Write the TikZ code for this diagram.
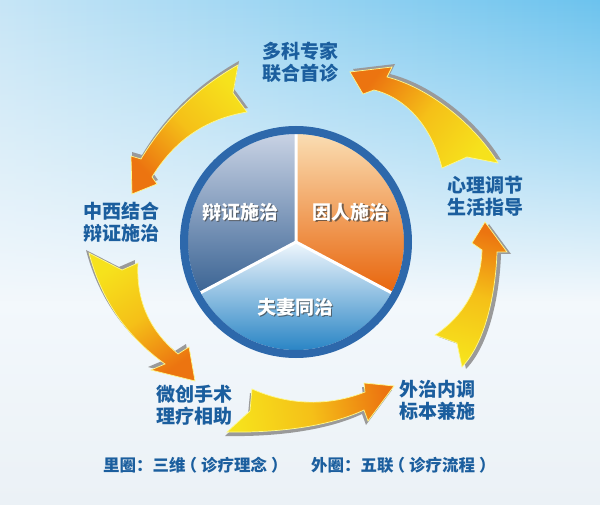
\documentclass[tikz,border=0pt]{standalone}
\usepackage{fontspec}
\setmainfont{Noto Sans CJK SC}
\usetikzlibrary{fadings}
\definecolor{bgtop}{HTML}{A9D9F2}
\definecolor{bgtr}{HTML}{6CC3EE}
\definecolor{bgmid}{HTML}{F3F8FC}
\definecolor{bgbot}{HTML}{EBF1F6}
\definecolor{lbl}{HTML}{1B5E9E}
\definecolor{ringc}{HTML}{2D68AB}
\definecolor{ayel}{HTML}{F6E21C}
\definecolor{amid}{HTML}{F5C018}
\definecolor{aora}{HTML}{EC7410}
\definecolor{ashd}{HTML}{9A9A9A}
\definecolor{ltop}{HTML}{C8D2E4}
\definecolor{lbot}{HTML}{3B6494}
\definecolor{rtop}{HTML}{FADDB2}
\definecolor{rbot}{HTML}{E8650C}
\definecolor{btop}{HTML}{F0F7FD}
\definecolor{bbot}{HTML}{0E75BD}
\tikzset{
  lbltext/.style={text=lbl, font=\fontsize{19}{22}\selectfont\bfseries, align=center, inner sep=0pt},
  pietext/.style={text=white, font=\fontsize{19}{22}\selectfont\bfseries, inner sep=0pt},
  pieshadow/.style={text=black!75, font=\fontsize{19}{22}\selectfont\bfseries, inner sep=0pt, opacity=0.7},
  captext/.style={text=lbl, font=\fontsize{16.5}{18}\selectfont\bfseries, inner sep=0pt},
  arrowshadow/.style={fill=ashd},
  arrowbody/.style={draw=white!55!yellow, line width=0.7pt},
}
\newcommand\pathArrowA{(238,65) .. controls (197,88) and (165,119) .. (141,159) -- (131,156) -- (132,194) -- (157,184) -- (152,177) .. controls (174,141) and (205,119) .. (247,112) -- (233,93) -- cycle}
\newcommand\pathArrowB{(89,253) -- (122,270) -- (138,263) .. controls (136,300) and (149,330) .. (178,354) -- (189,347) -- (195,381) -- (151,370) -- (165,364) .. controls (126,336) and (101,299) .. (89,253) -- cycle}
\newcommand\pathArrowC{(252,389) .. controls (290,406) and (330,406) .. (365,392) -- (364,383) -- (394,386) -- (368,421) -- (364,410) .. controls (330,426) and (280,433) .. (227,432) -- (250,411) -- cycle}
\newcommand\pathArrowD{(435,335) -- (457,343) -- (462,367) .. controls (488,340) and (496,285) .. (497,252) -- (507,252) -- (485,222) -- (472,243) -- (482,250) .. controls (481,285) and (465,315) .. (435,335) -- cycle}
\newcommand\pathArrowE{(498,163) .. controls (475,125) and (430,88) .. (387,77) -- (392,67) -- (350,72) -- (363,94) -- (374,90) .. controls (400,96) and (430,120) .. (442,168) -- (467,157) -- cycle}
\begin{document}
\begin{tikzpicture}[x=1pt,y=-1pt]
\useasboundingbox (0,0) rectangle (600,505);
% background
\fill[bgmid] (0,0) rectangle (600,505);
\shade[top color=bgmid, bottom color=bgbot] (0,300) rectangle (600,505);
\shade[left color=bgtop!60!bgmid, right color=bgtr, path fading=south] (0,0) rectangle (600,300);

% arrows: shadows
\fill[arrowshadow, shift={(1,-4)}] \pathArrowA;
\fill[arrowshadow, shift={(-3,-3)}] \pathArrowB;
\fill[arrowshadow, shift={(-2,4)}] \pathArrowC;
\fill[arrowshadow, shift={(4,2)}] \pathArrowD;
\fill[arrowshadow, shift={(3,-3)}] \pathArrowE;
% arrows: bodies
\shade[arrowbody, bottom color=ayel, top color=aora, middle color=amid, shading angle=135] \pathArrowA;
\shade[arrowbody, bottom color=ayel, top color=aora, middle color=amid, shading angle=-146] \pathArrowB;
\shade[arrowbody, bottom color=ayel, top color=aora, middle color=amid, shading angle=-81] \pathArrowC;
\shade[arrowbody, bottom color=ayel, top color=aora, middle color=amid, shading angle=-15] \pathArrowD;
\shade[arrowbody, bottom color=ayel, top color=aora, middle color=amid, shading angle=52] \pathArrowE;

% central pie
\begin{scope}[shift={(296,242)}, y=1pt]
  \shade[top color=ltop, bottom color=lbot] (0,0) -- (90:108) arc (90:208:108) -- cycle;
  \shade[top color=rtop, bottom color=rbot] (0,0) -- (-28:108) arc (-28:90:108) -- cycle;
  \shade[top color=btop, bottom color=bbot] (0,0) -- (208:108) arc (208:332:108) -- cycle;
  \draw[white, line width=3pt] (0,0) -- (90:108) (0,0) -- (208:108) (0,0) -- (-28:108);
  \draw[ringc, line width=8pt] (0,0) circle (112);
\end{scope}

% pie texts
\node[pieshadow] at (241.5,213.5) {辩证施治};
\node[pietext] (p1) at (240,212) {辩证施治};
\node[pieshadow] at (352,213.5) {因人施治};
\node[pietext] (p2) at (350.5,212) {因人施治};
\node[pieshadow] at (296.5,308.5) {夫妻同治};
\node[pietext] (p3) at (295,307) {夫妻同治};

% outer labels
\node[lbltext] (s1) at (300,62.5) {多科专家\\联合首诊};
\node[lbltext] (s2) at (121,222) {中西结合\\辩证施治};
\node[lbltext] (s3) at (194,405) {微创手术\\理疗相助};
\node[lbltext] (s4) at (437,400) {外治内调\\标本兼施};
\node[lbltext] (s5) at (485,196) {心理调节\\生活指导};

% caption
\node[captext, anchor=west] (c1) at (103,465) {里圈：三维\hspace{-5pt}（\hspace{4pt}诊疗理念\hspace{4pt}）};
\node[captext, anchor=west] (c2) at (311,465) {外圈：五联\hspace{-5pt}（\hspace{4pt}诊疗流程\hspace{4pt}）};
\end{tikzpicture}
\end{document}
